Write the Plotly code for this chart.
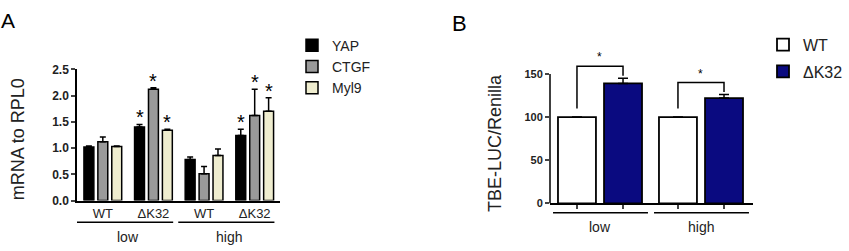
import plotly.graph_objects as go

FONT = "Arial, Liberation Sans, sans-serif"

# ---------------- Panel A data ----------------
a_groups = ["WT", "ΔK32", "WT", "ΔK32"]
a_conc = ["low", "high"]
a_names = ["YAP", "CTGF", "Myl9"]
yap = [1.02, 1.40, 0.78, 1.24]
yap_err = [0.02, 0.05, 0.05, 0.12]
ctgf = [1.12, 2.12, 0.51, 1.62]
ctgf_err = [0.09, 0.03, 0.14, 0.50]
myl9 = [1.03, 1.34, 0.86, 1.70]
myl9_err = [0.01, 0.02, 0.12, 0.26]
a_sig = [False, True, False, True]
a_colors = ["#000000", "#9a9a9a", "#efedcf"]
a_ticks = ["0.0", "0.5", "1.0", "1.5", "2.0", "2.5"]

# ---------------- Panel B data ----------------
b_conc = ["low", "high"]
b_names = ["WT", "ΔK32"]
b_wt = [100, 100]
b_wt_err = [0, 0]
b_dk = [139, 122]
b_dk_err = [6, 4]
b_sig = [True, True]
b_colors = ["#ffffff", "#0a0a80"]
b_ticks = [0, 50, 100, 150]

fig = go.Figure()

# ---------- Panel A bars ----------
a_pos = list(range(len(a_groups)))
a_width = 0.196
a_offsets = [-0.373, -0.098, 0.177]
a_vals = [yap, ctgf, myl9]
a_errs = [yap_err, ctgf_err, myl9_err]
annotations = []
for i, name in enumerate(a_names):
    fig.add_trace(go.Bar(
        x=a_pos, y=a_vals[i], name=name, width=a_width, offset=a_offsets[i],
        marker=dict(color=a_colors[i], line=dict(color="black", width=1.5)),
        error_y=dict(type="data", array=a_errs[i], arrayminus=[0] * len(a_pos),
                     symmetric=False, color="black", thickness=1.5, width=3),
        xaxis="x", yaxis="y", legend="legend", legendgroup=name, cliponaxis=False,
    ))
    for j, p in enumerate(a_pos):
        if a_sig[j]:
            annotations.append(dict(
                x=p + a_offsets[i] + a_width / 2, y=a_vals[i][j] + a_errs[i][j],
                xref="x", yref="y", text="*", showarrow=False, yanchor="bottom",
                xanchor="center", yshift=-6, font=dict(size=20, family=FONT, color="black")))

# ---------- Panel B bars ----------
b_pos = list(range(len(b_conc)))
b_width = 0.376
b_offsets = [-0.416, 0.04]
b_vals = [b_wt, b_dk]
b_errs = [b_wt_err, b_dk_err]
for i, name in enumerate(b_names):
    fig.add_trace(go.Bar(
        x=b_pos, y=b_vals[i], name=name, width=b_width, offset=b_offsets[i],
        marker=dict(color=b_colors[i], line=dict(color="black", width=1.8)),
        error_y=dict(type="data", array=b_errs[i], arrayminus=[0] * len(b_pos),
                     symmetric=False, color="black", thickness=1.5, width=5),
        xaxis="x2", yaxis="y2", legend="legend2", legendgroup=name, cliponaxis=False,
    ))

shapes = []
# significance brackets in B
for j, p in enumerate(b_pos):
    if not b_sig[j]:
        continue
    xl = p + b_offsets[0] + b_width / 2
    xr = p + b_offsets[1] + b_width / 2
    top_r = b_dk[j] + b_dk_err[j]
    top = max(b_wt[j] + b_wt_err[j], top_r) + 14
    shapes.append(dict(type="path", xref="x2", yref="y2",
                       path=f"M{xl},{b_wt[j] + 10} L{xl},{top} L{xr},{top} L{xr},{top_r + 3}",
                       line=dict(color="black", width=1.5)))
    annotations.append(dict(x=(xl + xr) / 2, y=top, xref="x2", yref="y2", text="*",
                            showarrow=False, yanchor="bottom", xanchor="center", yshift=0,
                            font=dict(size=12, family=FONT, color="black")))

# y-axis line for B (stops at the top tick)
shapes.append(dict(type="line", xref="x2 domain", yref="y2", x0=0, x1=0,
                   y0=b_ticks[0], y1=b_ticks[-1], line=dict(color="black", width=1.5)))


def label(x, y, text, size, xref="paper", yref="paper", angle=0, color="#222"):
    return dict(x=x, y=y, xref=xref, yref=yref, text=text, showarrow=False,
                xanchor="center", yanchor="middle", textangle=angle,
                font=dict(size=size, family=FONT, color=color))


# group underlines and labels
for k, c in enumerate(a_conc):
    p0, p1 = a_pos[2 * k], a_pos[2 * k + 1]
    shapes.append(dict(type="line", xref="x", yref="paper", x0=p0 - 0.51, x1=p1 + 0.39,
                       y0=1 - 228 / 251, y1=1 - 228 / 251, line=dict(color="black", width=1.5)))
    annotations.append(label((p0 + p1) / 2, 1 - 244 / 251, c, 14, xref="x"))
for k, c in enumerate(b_conc):
    p = b_pos[k]
    shapes.append(dict(type="line", xref="x2", yref="paper", x0=p - 0.465, x1=p + 0.475,
                       y0=1 - 218 / 251, y1=1 - 218 / 251, line=dict(color="black", width=1.5)))
    annotations.append(label(p, 1 - 233 / 251, c, 14, xref="x2"))

# panel letters and y titles
annotations += [
    label(8 / 849, 1 - 14 / 251, "A", 21, color="black"),
    label(460 / 849, 1 - 18 / 251, "B", 22, color="black"),
    label(18 / 849, 1 - 140 / 251, "mRNA to RPL0", 18, angle=-90),
    label(495 / 849, 1 - 144 / 251, "TBE-LUC/Renilla", 18, angle=-90),
]

b_tickpos = [p + off + b_width / 2 for p in b_pos for off in b_offsets]

fig.update_layout(
    width=849, height=251, margin=dict(l=0, r=0, t=0, b=0),
    paper_bgcolor="white", plot_bgcolor="white",
    barmode="overlay", showlegend=True,
    font=dict(family=FONT, color="black"),
    xaxis=dict(domain=[77 / 849, 280 / 849], range=[-0.51, 3.5], tickvals=a_pos,
               ticktext=a_groups, showline=True, linecolor="black", linewidth=1.5,
               ticks="", showgrid=False, zeroline=False, fixedrange=True,
               tickfont=dict(size=13, family=FONT, color="#222")),
    yaxis=dict(domain=[1 - 205 / 251, 1 - 66 / 251], range=[0, 2.5],
               tickvals=[float(t) for t in a_ticks], ticktext=[f"<b>{t}</b>" for t in a_ticks],
               showline=True, linecolor="black", linewidth=1.5, ticks="outside",
               ticklen=4, tickwidth=1.5, showgrid=False, zeroline=False,
               tickfont=dict(size=12, family=FONT, color="#222")),
    xaxis2=dict(domain=[550 / 849, 753 / 849], range=[-0.495, 1.515], anchor="y2",
                tickvals=b_tickpos, showticklabels=False, showline=True, linecolor="black",
                linewidth=1.5, ticks="outside", ticklen=4, tickwidth=1.5,
                showgrid=False, zeroline=False),
    yaxis2=dict(domain=[1 - 208 / 251, 1 - 48 / 251], range=[0, 175], anchor="x2",
                tickvals=b_ticks, ticktext=[f"<b>{t}</b>" for t in b_ticks],
                showline=False, ticks="outside", ticklen=4, tickwidth=1.5,
                showgrid=False, zeroline=False,
                tickfont=dict(size=11, family=FONT, color="#222")),
    legend=dict(x=292 / 849, y=1 - 24 / 251, xanchor="left", yanchor="top",
                bgcolor="rgba(0,0,0,0)", font=dict(size=14, family=FONT, color="#222"),
                tracegroupgap=0),
    legend2=dict(x=763 / 849, y=1 - 22 / 251, xanchor="left", yanchor="top",
                 bgcolor="rgba(0,0,0,0)", font=dict(size=16, family=FONT, color="#222"),
                 tracegroupgap=3),
    shapes=shapes, annotations=annotations,
)

fig.write_html("out.html")
